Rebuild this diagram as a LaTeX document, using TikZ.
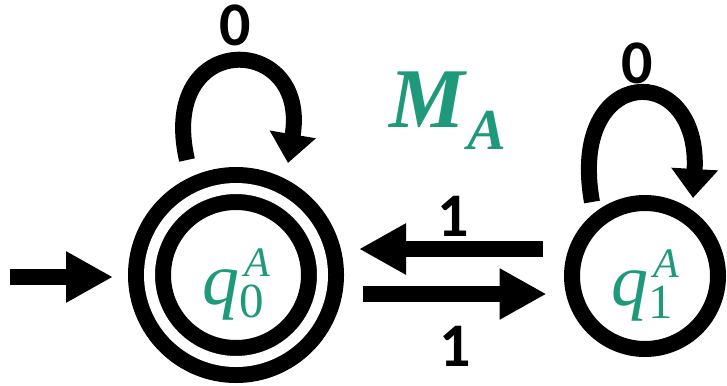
\documentclass[tikz,border=0pt]{standalone}
\usepackage{fontspec}
\setmainfont{Liberation Serif}
\newfontfamily\lblfont{Carlito}
\usetikzlibrary{arrows.meta,calc}
\definecolor{mgreen}{RGB}{30,154,122}
\newcommand{\qlab}[1]{\fontsize{74}{74}\selectfont\itshape q\rlap{\raisebox{-13pt}{\fontsize{49}{49}\selectfont\upshape #1}}\kern5pt\raisebox{28pt}{\fontsize{42}{42}\selectfont A}}
\begin{document}
\begin{tikzpicture}[x=1pt,y=-1pt,
  state/.style={circle,draw,line width=16pt,minimum size=146pt,inner sep=0pt,
    text height=58pt,text depth=0pt,text=mgreen},
  accstate/.style={state,double,double distance=11pt,minimum size=173pt,outer sep=21.5pt},
  arr/.style={line width=15.5pt,-{Triangle[length=47pt,width=48pt]}},
  looparr/.style={line width=16pt,-{Triangle[length=29pt,width=45pt]}},
  lbl/.style={font=\fontsize{62}{62}\selectfont\lblfont\bfseries,inner sep=0pt},
]
\useasboundingbox (0,0) rectangle (727,385);
\node[accstate] (q0) at (236,275) {\qlab{0}};
\node[state] (q1) at (645,276) {\qlab{1}};
\coordinate (start) at (10,277);
\draw[arr,shorten >=15pt] (start) -- ([yshift=-2pt]q0.west);
\draw[arr,shorten <=21pt,shorten >=15pt] ([yshift=27pt]q1.west) -- ([yshift=26pt]q0.east);
\draw[arr,shorten <=19pt,shorten >=17.5pt] ([yshift=-19pt]q0.east) -- ([yshift=-18pt]q1.west);
\draw[looparr] ($(q0)+(-49,-115)$) .. controls +(-30,-131) and +(22,-131) .. ($(q0)+(52,-112)$);
\draw[looparr] ($(q1)+(-53,-74)$) .. controls +(-25,-139) and +(8,-139) .. ($(q1)+(48,-78)$);
\node[lbl] (l0) at (235.5,25) {0};
\node[lbl] (l1) at (637.5,63.5) {0};
\node[lbl] (l2) at (453.5,216) {1};
\node[lbl] (l3) at (455,346.5) {1};
\node[text=mgreen,font=\bfseries\itshape] (title) at (448,111) {\fontsize{85}{85}\selectfont M\kern2pt\raisebox{-22pt}{\fontsize{58}{58}\selectfont A}};
\end{tikzpicture}
\end{document}
